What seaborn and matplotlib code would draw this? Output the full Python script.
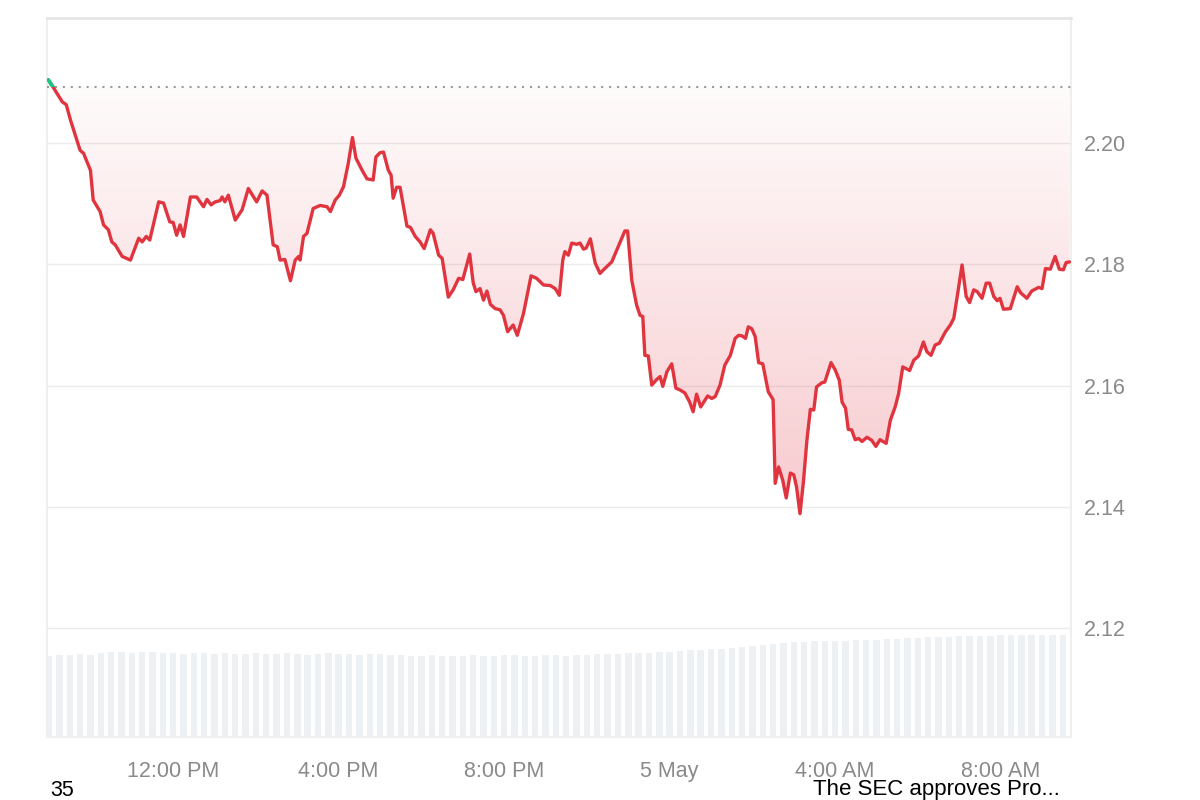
"""
24h price chart with dotted open-price reference, red gradient fill under the
reference line and pale volume bars along the bottom.
"""

import numpy as np
import pandas as pd
import seaborn as sns
import matplotlib.pyplot as plt
import matplotlib.dates as mdates
from matplotlib.patches import Rectangle

sns.set_theme(style="white")
plt.rcParams['font.family'] = ['Liberation Sans', 'DejaVu Sans']

base = pd.Timestamp("2025-05-04 12:00")

# minutes relative to 12:00 PM, 4 May
minutes = [
    -181, -173, -161, -155, -149, -135, -130, -120, -116, -106,
    -101, -94, -89, -84, -74, -62, -50, -45, -39, -34,
    -21, -14, -5, 0, 5, 10, 15, 25, 34, 44,
    49, 55, 61, 68, 71, 75, 80, 90, 100, 109,
    121, 129, 136, 145, 151, 155, 162, 170, 177, 182,
    184, 189, 194, 203, 213, 223, 228, 235, 241, 247,
    254, 260, 265, 274, 281, 290, 294, 300, 305, 312,
    316, 319, 324, 329, 339, 344, 351, 358, 364, 373,
    377, 385, 390, 399, 406, 414, 420, 430, 435, 439,
    445, 450, 455, 460, 467, 474, 479, 485, 493, 499,
    508, 519, 527, 537, 547, 554, 560, 565, 568, 573,
    578, 585, 590, 595, 599, 605, 612, 619, 624, 636,
    655, 659, 665, 672, 677, 681, 684, 689, 694, 701,
    706, 710, 716, 723, 729, 735, 742, 749, 754, 759,
    765, 775, 781, 786, 793, 800, 808, 815, 820, 825,
    830, 834, 839, 844, 849, 855, 863, 870, 873, 878,
    884, 889, 895, 900, 904, 909, 914, 919, 924, 929,
    933, 941, 945, 954, 960, 966, 970, 975, 979, 984,
    989, 994, 999, 1006, 1013, 1019, 1025, 1034, 1040, 1047,
    1052, 1058, 1068, 1074, 1081, 1088, 1093, 1099, 1105, 1111,
    1120, 1127, 1132, 1137, 1144, 1150, 1155, 1161, 1166, 1173,
    1179, 1184, 1190, 1195, 1199, 1204, 1214, 1224, 1229, 1238,
    1245, 1255, 1260, 1265, 1272, 1279, 1285, 1291, 1295, 1300,
]

price = [
    2.2104, 2.2090, 2.2068, 2.2063, 2.2038, 2.1988, 2.1983, 2.1955, 2.1906, 2.1887,
    2.1865, 2.1857, 2.1837, 2.1832, 2.1813, 2.1807, 2.1843, 2.1837, 2.1846, 2.1840,
    2.1903, 2.1901, 2.1870, 2.1869, 2.1848, 2.1865, 2.1846, 2.1911, 2.1911, 2.1895,
    2.1907, 2.1898, 2.1903, 2.1905, 2.1911, 2.1903, 2.1914, 2.1873, 2.1890, 2.1925,
    2.1903, 2.1921, 2.1914, 2.1832, 2.1829, 2.1807, 2.1808, 2.1773, 2.1807, 2.1813,
    2.1807, 2.1846, 2.1851, 2.1892, 2.1897, 2.1895, 2.1887, 2.1906, 2.1914, 2.1928,
    2.1967, 2.2009, 2.1975, 2.1955, 2.1941, 2.1939, 2.1977, 2.1984, 2.1985, 2.1955,
    2.1947, 2.1909, 2.1927, 2.1927, 2.1863, 2.1861, 2.1846, 2.1837, 2.1826, 2.1857,
    2.1851, 2.1815, 2.1810, 2.1746, 2.1758, 2.1777, 2.1775, 2.1817, 2.1770, 2.1755,
    2.1760, 2.1741, 2.1756, 2.1734, 2.1727, 2.1725, 2.1716, 2.1689, 2.1700, 2.1683,
    2.1719, 2.1781, 2.1777, 2.1766, 2.1765, 2.1760, 2.1749, 2.1807, 2.1821, 2.1815,
    2.1835, 2.1833, 2.1835, 2.1825, 2.1827, 2.1842, 2.1802, 2.1785, 2.1791, 2.1804,
    2.1855, 2.1855, 2.1774, 2.1733, 2.1716, 2.1714, 2.1650, 2.1649, 2.1601, 2.1610,
    2.1615, 2.1599, 2.1623, 2.1636, 2.1596, 2.1593, 2.1588, 2.1573, 2.1557, 2.1586,
    2.1565, 2.1583, 2.1579, 2.1582, 2.1601, 2.1634, 2.1650, 2.1678, 2.1683, 2.1682,
    2.1678, 2.1697, 2.1694, 2.1681, 2.1638, 2.1636, 2.1590, 2.1577, 2.1439, 2.1466,
    2.1444, 2.1415, 2.1456, 2.1453, 2.1433, 2.1389, 2.1442, 2.1510, 2.1561, 2.1560,
    2.1598, 2.1605, 2.1606, 2.1638, 2.1626, 2.1609, 2.1573, 2.1563, 2.1528, 2.1527,
    2.1511, 2.1513, 2.1508, 2.1515, 2.1510, 2.1500, 2.1511, 2.1505, 2.1543, 2.1565,
    2.1587, 2.1631, 2.1625, 2.1642, 2.1649, 2.1672, 2.1656, 2.1650, 2.1667, 2.1670,
    2.1689, 2.1700, 2.1711, 2.1747, 2.1799, 2.1747, 2.1737, 2.1758, 2.1755, 2.1744,
    2.1769, 2.1769, 2.1747, 2.1740, 2.1744, 2.1726, 2.1727, 2.1763, 2.1753, 2.1744,
    2.1756, 2.1762, 2.1760, 2.1793, 2.1792, 2.1813, 2.1792, 2.1791, 2.1803, 2.1804,
]

ref_price = 2.2093

# volume (M), one bar every 15 minutes from -180 min
vol_minutes = list(range(-180, 1291, 15))
volume = [
    1972, 1996, 1996, 2020, 1996,
    2045, 2069, 2069, 2045, 2069, 2069, 2045, 2045,
    2020, 2045, 2045, 2020, 2045, 2020, 2020, 2045, 2020, 2020,
    2045, 2020, 1996, 2020, 2045, 2020, 2020, 1996, 2020, 2020,
    1996, 1996, 1972, 1972, 1996, 1972, 1972, 1972, 1996, 1972, 1972,
    1996, 1996, 1972, 1972, 1996, 1996, 1972, 1996, 1996, 2020,
    2020, 2020, 2045, 2045, 2045, 2069, 2069, 2093, 2118, 2118,
    2142, 2142, 2166, 2191, 2215, 2239, 2264, 2288,
    2312, 2312, 2337, 2337, 2337, 2337, 2361, 2361, 2361, 2385, 2385, 2410, 2410, 2434,
    2434, 2434, 2458, 2458, 2458, 2458, 2483, 2483, 2483, 2483, 2483, 2483, 2483,
]

tick_times = ["2025-05-04 12:00", "2025-05-04 16:00", "2025-05-04 20:00",
              "2025-05-05 00:00", "2025-05-05 04:00", "2025-05-05 08:00"]
tick_labels = ["12:00 PM", "4:00 PM", "8:00 PM", "5 May", "4:00 AM", "8:00 AM"]
y_ticks = [2.12, 2.14, 2.16, 2.18, 2.20]

red = "#e0343f"
green = "#16c784"
label_grey = "#8a8a8a"

df = pd.DataFrame({"time": base + pd.to_timedelta(minutes, unit="min"), "price": price})
vol_df = pd.DataFrame({"time": base + pd.to_timedelta(vol_minutes, unit="min"), "volume": volume})

x_left = base - pd.Timedelta(minutes=183)
x_right = base + pd.Timedelta(minutes=1302)
y_low, y_high = 2.1021, 2.2206

fig = plt.figure(figsize=(12, 8), dpi=100, facecolor="white")
ax = fig.add_axes([47 / 1200, 1 - 737 / 800, 1024 / 1200, 719 / 800])

# volume bars (back layer)
ax.bar(vol_df["time"], vol_df["volume"], width=15 / 1440 * 0.62, color="#eef1f4", linewidth=0)
ax.set_ylim(0, 17500)
ax.set_yticks([])
ax.set_xlim(x_left, x_right)
ax.set_xticks(pd.to_datetime(tick_times))
ax.set_xticklabels(tick_labels)
ax.tick_params(axis="x", length=0, pad=17, labelsize=15.5, labelcolor=label_grey)
for side in ["left", "right", "top", "bottom"]:
    ax.spines[side].set_color("#efefef")
    ax.spines[side].set_linewidth(1.5)
ax.spines["top"].set_color("#e6e6e6")
ax.spines["top"].set_linewidth(2)

# price layer
axp = ax.twinx()
axp.set_ylim(y_low, y_high)
axp.set_xlim(x_left, x_right)

# gradient fill between price and the reference line
poly = axp.fill_between(df["time"], np.minimum(df["price"], ref_price), ref_price,
                        color="none", linewidth=0)
x0, x1 = mdates.date2num(x_left), mdates.date2num(x_right)
n = 256
grad = np.zeros((n, 1, 4))
grad[:, 0, 0] = 226 / 255
grad[:, 0, 1] = 58 / 255
grad[:, 0, 2] = 72 / 255
grad[:, 0, 3] = np.linspace(0.02, 0.27, n)
im = axp.imshow(grad, extent=[x0, x1, 2.1385, ref_price], aspect="auto",
                origin="upper", zorder=1)
im.set_clip_path(poly.get_paths()[0], transform=axp.transData)

axp.axhline(ref_price, color="#9a9a9a", linestyle=(0, (1, 2.8)), linewidth=1.5, zorder=2)

sns.lineplot(data=df, x="time", y="price", ax=axp, color=red, linewidth=2.4,
             solid_joinstyle="round", solid_capstyle="round", zorder=3)
up = axp.plot(df["time"], df["price"], color=green, linewidth=2.6,
              solid_joinstyle="round", zorder=4)[0]
clip = Rectangle((x0, ref_price), x1 - x0, 1.0, transform=axp.transData)
up.set_clip_path(clip)

axp.set_xlim(x_left, x_right)
axp.set_ylim(y_low, y_high)
axp.set_yticks(y_ticks)
axp.set_yticklabels([f"{v:.2f}" for v in y_ticks])
axp.tick_params(axis="y", length=0, pad=9, labelsize=15.5, labelcolor=label_grey)
axp.grid(axis="y", color="#ebebeb", linewidth=1)
axp.grid(axis="x", visible=False)
axp.set_axisbelow(True)
axp.set_xlabel("")
axp.set_ylabel("")
for side in ["left", "right", "top", "bottom"]:
    axp.spines[side].set_visible(False)

# cropped caption fragments at the bottom edge
fig.text(62 / 1200, 1 - 790 / 800, "35", ha="center", va="center", fontsize=15.5, color="black")
fig.text(813 / 1200, 1 - 790 / 800, "The SEC approves Pro...", ha="left", va="center",
         fontsize=16, color="black")

fig.savefig("out.png", dpi=100, facecolor="white")
